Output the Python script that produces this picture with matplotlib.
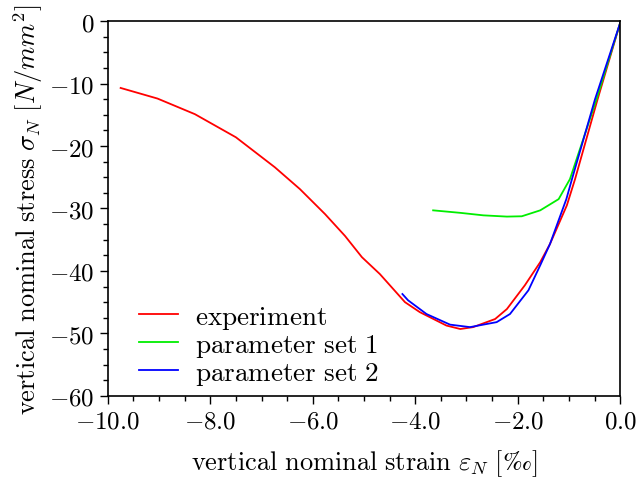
import matplotlib
matplotlib.use("Agg")
import matplotlib.pyplot as plt
from matplotlib.ticker import MultipleLocator, FuncFormatter

plt.rcParams["mathtext.fontset"] = "cm"
plt.rcParams["font.family"] = ["DejaVu Serif"]

# strain [permille], stress [N/mm^2]
exp_strain = [-9.75, -9.03, -8.3, -7.5, -6.74, -6.25, -5.76, -5.37, -5.04, -4.69,
              -4.2, -3.91, -3.39, -3.12, -2.87, -2.44, -2.21, -1.86, -1.56, -1.37,
              -1.04, -0.88, -0.45, 0.0]
exp_stress = [-10.7, -12.4, -14.9, -18.6, -23.4, -26.9, -30.9, -34.4, -37.8, -40.5,
              -45.0, -46.6, -48.75, -49.3, -49.0, -47.7, -46.1, -42.3, -38.6, -35.7,
              -29.5, -25.3, -12.8, -0.3]

set1_strain = [-3.65, -3.12, -2.67, -2.21, -1.92, -1.56, -1.2, -0.98, -0.46, 0.0]
set1_stress = [-30.3, -30.7, -31.1, -31.3, -31.25, -30.3, -28.5, -25.3, -12.5, -0.3]

set2_strain = [-4.25, -4.14, -3.78, -3.32, -2.93, -2.41, -2.15, -1.79, -1.56, -1.37,
               -1.05, -0.94, -0.49, 0.0]
set2_stress = [-43.7, -44.7, -46.9, -48.6, -49.0, -48.2, -46.9, -43.1, -39.1, -35.7,
               -28.5, -25.3, -12.5, -0.3]

labels = ["experiment", "parameter set 1", "parameter set 2"]
colors = ["#ff0000", "#00ee00", "#0000ff"]

fig = plt.figure(figsize=(6.38, 4.81), dpi=100)
ax = fig.add_axes([0.169, 0.175, 0.803, 0.779])

for xs, ys, lab, c in zip([exp_strain, set1_strain, set2_strain],
                          [exp_stress, set1_stress, set2_stress], labels, colors):
    ax.plot(xs, ys, color=c, lw=1.3, label=r"$\mathrm{" + lab.replace(" ", r"\ ") + "}$")

ax.set_xlim(-10, 0)
ax.set_ylim(-60, 0)
ax.xaxis.set_major_locator(MultipleLocator(2))
ax.xaxis.set_minor_locator(MultipleLocator(0.5))
ax.yaxis.set_major_locator(MultipleLocator(10))
ax.yaxis.set_minor_locator(MultipleLocator(2.5))
ax.xaxis.set_major_formatter(FuncFormatter(lambda v, p: r"$%.1f$" % v if abs(v) > 1e-9 else r"$0.0$"))
ax.yaxis.set_major_formatter(FuncFormatter(lambda v, p: r"$%d$" % round(v)))
ax.tick_params(which="both", direction="out", top=False, right=False, labelsize=18, width=1.0)
ax.tick_params(which="major", length=6)
ax.tick_params(which="minor", length=3.5)
for s in ax.spines.values():
    s.set_linewidth(1.2)

ax.set_xlabel(r"$\mathrm{vertical\ nominal\ strain}\ \varepsilon_N\ [‰]$", fontsize=19, labelpad=11)
ax.set_ylabel(r"$\mathrm{vertical\ nominal\ stress}\ \sigma_N\ [N/mm^2]$", fontsize=19, labelpad=3)

ax.legend(loc="lower left", frameon=False, fontsize=19.5, handlelength=1.45,
          handletextpad=0.6, borderaxespad=0.0, labelspacing=0.0,
          bbox_to_anchor=(0.04, -0.005))

fig.savefig("out.png", dpi=100)
